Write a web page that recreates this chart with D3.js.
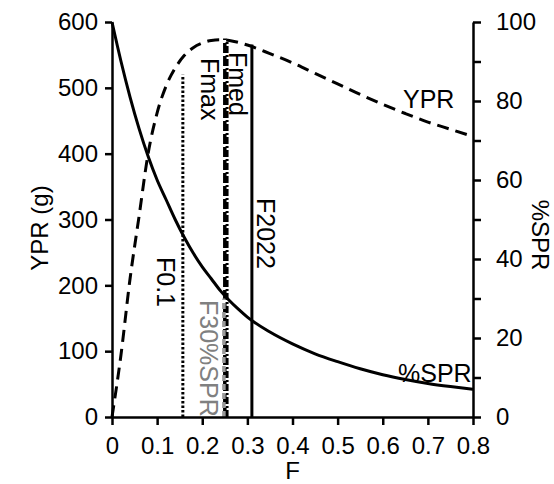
<!DOCTYPE html>
<html>
<head>
<meta charset="utf-8">
<script src="https://cdn.jsdelivr.net/npm/d3@7"></script>
<style>
  body { margin: 0; background: #fff; }
  svg { display: block; font-family: 'Liberation Sans', Arial, sans-serif; }
  .eje path, .eje line { stroke: #000; stroke-width: 2.5px; }
  .eje text { font-size: 24px; fill: #000; }
</style>
</head>
<body>
<div id="graf"></div>
<script>
// Datos
fValores = [0, 0.02, 0.04, 0.06, 0.08, 0.1, 0.12, 0.14, 0.16, 0.18, 0.2, 0.22, 0.24, 0.26, 0.28, 0.3,
            0.35, 0.4, 0.45, 0.5, 0.55, 0.6, 0.65, 0.7, 0.75, 0.8]
ypr = [0, 95, 210, 305, 400, 462, 503, 530, 549, 561, 568, 572, 573, 572, 569, 565,
       552, 538, 522, 506, 490, 475, 461, 448, 437, 426]
spr = [100, 90, 81, 73, 66, 60, 55, 50, 45.5, 41.5, 38, 35, 32, 29.5, 27.3, 25.3,
       21.5, 18.5, 16, 14, 12.2, 10.7, 9.5, 8.5, 7.7, 7]

// puntos de referencia: nombre, F, altura (en g de YPR)
refNombres = ['F0.1', 'Fmax', 'Fmed', 'F30%SPR', 'F2022']
refF       = [0.157, 0.25, 0.255, 0.248, 0.31]
refTope    = [520, 575, 572, 180, 566]

xTicks = [0, 0.1, 0.2, 0.3, 0.4, 0.5, 0.6, 0.7, 0.8]
yTicks = [0, 100, 200, 300, 400, 500, 600]
y2Ticks = [0, 20, 40, 60, 80, 100]

// I. Configuración
ancho_total = 554
alto_total = 484
margins = { top: 22, left: 112, right: 81, bottom: 67 }
ancho = ancho_total - margins.left - margins.right
alto = alto_total - margins.top - margins.bottom

svg = d3.select('#graf').append('svg')
        .attr('width', ancho_total)
        .attr('height', alto_total)

g = svg.append('g')
       .attr('transform', `translate(${margins.left}, ${margins.top})`)

x = d3.scaleLinear().domain([0, 0.8]).range([0, ancho])
y = d3.scaleLinear().domain([0, 600]).range([alto, 0])
y2 = d3.scaleLinear().domain([0, 100]).range([alto, 0])

// II. Lineas de referencia
estilos = {
  'F0.1':    { color: '#000', dash: '2.5,2', w: 3 },
  'Fmax':    { color: '#000', dash: '10,3', w: 3.5 },
  'Fmed':    { color: '#000', dash: '7,2,2,2', w: 3 },
  'F30%SPR': { color: '#999', dash: '6,3', w: 3.5 },
  'F2022':   { color: '#000', dash: null, w: 3 }
}
refNombres.forEach((n, i) => {
  e = estilos[n]
  g.append('line')
   .attr('x1', x(refF[i])).attr('x2', x(refF[i]))
   .attr('y1', y(0)).attr('y2', y(refTope[i]))
   .attr('stroke', e.color)
   .attr('stroke-width', e.w)
   .attr('stroke-dasharray', e.dash)
})

// III. Curvas
puntos = fValores.map((f, i) => ({ f: f, ypr: ypr[i], spr: spr[i] }))

lineaYpr = d3.line().x(d => x(d.f)).y(d => y(d.ypr)).curve(d3.curveMonotoneX)
lineaSpr = d3.line().x(d => x(d.f)).y(d => y2(d.spr)).curve(d3.curveMonotoneX)

g.append('path').datum(puntos)
 .attr('d', lineaYpr)
 .attr('fill', 'none').attr('stroke', '#000')
 .attr('stroke-width', 3).attr('stroke-dasharray', '12,7')

g.append('path').datum(puntos)
 .attr('d', lineaSpr)
 .attr('fill', 'none').attr('stroke', '#000')
 .attr('stroke-width', 3)

// IV. Ejes
xAxisGroup = g.append('g').attr('class', 'eje')
              .attr('transform', `translate(0, ${alto})`)
              .call(d3.axisBottom(x).tickValues(xTicks).tickSize(8).tickSizeOuter(0)
                      .tickFormat(d => d3.format('')(d)))
xAxisGroup.selectAll('text').attr('dy', '1.1em')

yAxisGroup = g.append('g').attr('class', 'eje')
              .call(d3.axisLeft(y).tickValues(yTicks).tickSize(7).tickSizeOuter(0).tickPadding(7))

y2AxisGroup = g.append('g').attr('class', 'eje')
               .attr('transform', `translate(${ancho}, 0)`)
               .call(d3.axisRight(y2).ticks(10).tickSize(8).tickSizeOuter(0).tickPadding(15)
                       .tickFormat(d => y2Ticks.includes(d) ? d : ''))

// V. Textos (posiciones en pixeles del svg)
textoEtiqueta = (txt, px, py, rot, color) => {
  svg.append('text')
     .attr('transform', `translate(${px}, ${py}) rotate(${rot})`)
     .attr('font-size', '25px')
     .attr('fill', color || '#000')
     .text(txt)
}
textoEtiqueta('Fmax', 201, 58, 90)
textoEtiqueta('Fmed', 229, 52, 90)
textoEtiqueta('F2022', 257, 198, 90)
textoEtiqueta('F0.1', 157, 257, 90)
textoEtiqueta('F30%SPR', 200, 300, 90, '#808080')

svg.append('text').attr('x', 403).attr('y', 108)
   .attr('font-size', '25px').text('YPR')
svg.append('text').attr('x', 398).attr('y', 382)
   .attr('font-size', '25px').text('%SPR')

svg.append('text')
   .attr('transform', `translate(48, 228) rotate(-90)`)
   .attr('text-anchor', 'middle').attr('font-size', '24px')
   .text('YPR (g)')
svg.append('text')
   .attr('transform', `translate(532, 235) rotate(90)`)
   .attr('text-anchor', 'middle').attr('font-size', '24px')
   .text('%SPR')
svg.append('text')
   .attr('x', margins.left + ancho / 2).attr('y', 479)
   .attr('text-anchor', 'middle').attr('font-size', '24px')
   .text('F')
</script>
</body>
</html>
